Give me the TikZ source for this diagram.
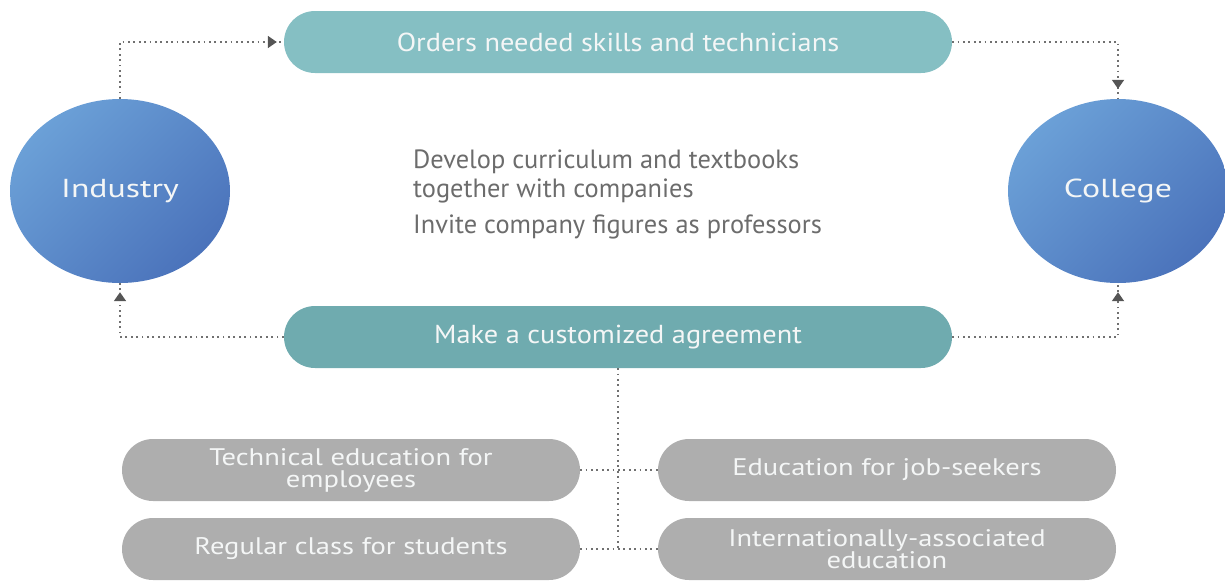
\documentclass[tikz,border=0pt]{standalone}
\usepackage{fontspec}
\setmainfont{PT Sans}
\newfontfamily\pillfont[FakeStretch=1.09]{PT Sans}
\newfontfamily\orbfont[FakeStretch=1.3]{PT Sans}
\newfontfamily\grayfont[FakeStretch=1.19]{PT Sans}
\usetikzlibrary{shapes.misc,shapes.geometric,arrows.meta,decorations.markings}
\definecolor{tealA}{HTML}{85BFC3}
\definecolor{tealB}{HTML}{6FABAF}
\definecolor{pillgray}{HTML}{AEAEAE}
\definecolor{bluelight}{HTML}{6BA0D7}
\definecolor{bluedark}{HTML}{4B73BB}
\definecolor{linegray}{HTML}{707070}
\definecolor{arrowgray}{HTML}{555555}
\definecolor{bodytext}{HTML}{6C6C6C}
\definecolor{pilltext}{HTML}{F4F6F6}
\tikzset{
  x=1pt,y=-1pt,
  pill/.style={rounded rectangle, draw=none, inner sep=0pt, minimum height=62pt, text=pilltext, align=center},
  bigpill/.style={pill, minimum width=668pt, font=\pillfont\fontsize{26}{28}\selectfont},
  graypill/.style={pill, fill=pillgray, minimum width=458pt, font=\grayfont\fontsize{24}{22}\selectfont},
  orb/.style={ellipse, inner sep=0pt, minimum width=220pt, minimum height=184pt, text=pilltext,
    font=\orbfont\fontsize{26}{28}\selectfont, left color=bluelight, right color=bluedark, shading angle=45},
  conn/.style={draw=linegray, line width=1.8pt, dash pattern=on 1.8pt off 3.6pt},
  tipat/.style={postaction={decorate}, decoration={markings, mark=at position -#1 with {\arrow[arrowgray]{Triangle[length=9pt,width=12pt]}}}},
  body/.style={anchor=base west, inner sep=0pt, text=bodytext, font=\fontsize{26.4}{28}\selectfont}
}
\begin{document}
\begin{tikzpicture}
\useasboundingbox (0,0) rectangle (1225,581);
\node[bigpill, fill=tealA] (top) at (618,42) {Orders needed skills and technicians};
\node[bigpill, fill=tealB] (mid) at (618,337) {Make a customized agreement};
\node[orb] (ind) at (120,191) {Industry};
\node[orb] (col) at (1118,191) {College};
\node[body] (t1) at (413,168) {Develop curriculum and textbooks};
\node[body] (t2) at (413,197) {together with companies};
\node[body] (t3) at (413,233) {Invite company figures as professors};
\node[graypill] (r1l) at (351,470) {Technical education for\\employees};
\node[graypill] (r1r) at (887,470) {Education for job-seekers};
\node[graypill] (r2l) at (351,549) {Regular class for students};
\node[graypill] (r2r) at (887,549) {Internationally-associated\\education};
% connectors
\draw[conn, tipat=7pt] (ind.north) |- (top.west);
\draw[conn, tipat=10pt] (top.east) -| (col.north);
\draw[conn, tipat=9pt] (mid.west) -| (ind.south);
\draw[conn, tipat=9pt] (mid.east) -| (col.south);
\draw[conn] (mid.south) -- (mid.south |- r2l.east);
\draw[conn] (r1l.east) -- (r1r.west);
\draw[conn] (r2l.east) -- (r2r.west);
\end{tikzpicture}
\end{document}
